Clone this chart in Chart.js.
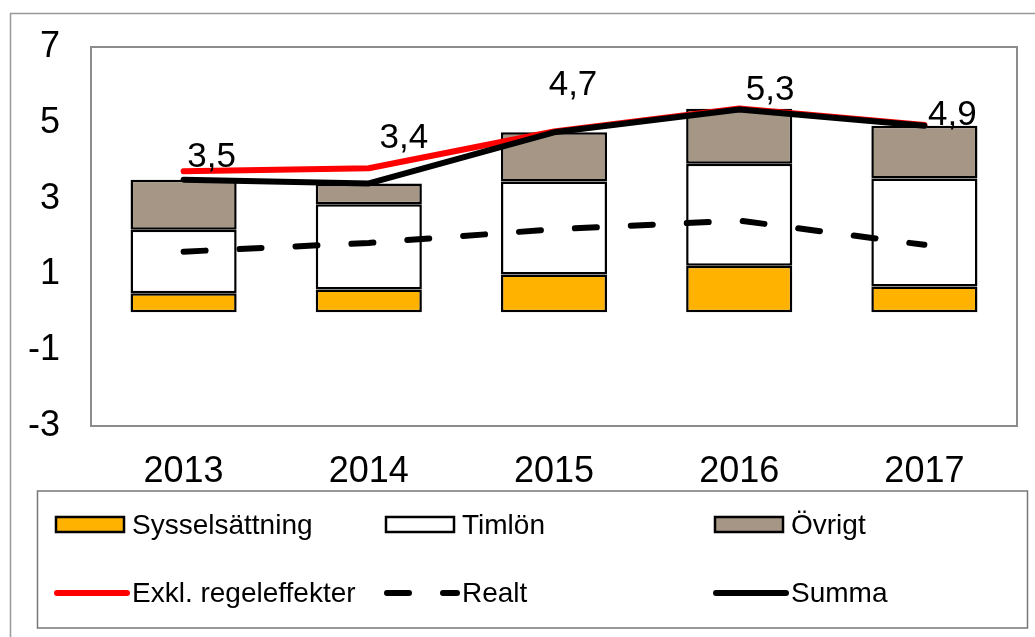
<!DOCTYPE html>
<html>
<head>
<meta charset="utf-8">
<script src="https://cdn.jsdelivr.net/npm/chart.js@4/dist/chart.umd.min.js"></script>
<style>
body { margin: 0; background: #fff; }
</style>
</head>
<body>
<canvas id="myChart" width="1035" height="637"></canvas>
<script>
// data
const years = ['2013', '2014', '2015', '2016', '2017'];
const sysselsattning = [0.5, 0.6, 1.0, 1.23, 0.68];
const timlon = [1.68, 2.25, 2.45, 2.69, 2.85];
const ovrigt = [1.32, 0.55, 1.3, 1.45, 1.39];
const exkl = [3.72, 3.8, 4.77, 5.38, 4.94];
const realt = [1.6, 1.83, 2.19, 2.42, 1.78];
const summa = [3.5, 3.4, 4.75, 5.35, 4.92];
const summaLabels = ['3,5', '3,4', '4,7', '5,3', '4,9'];
const yTicks = [-3, -1, 1, 3, 5, 7];

const FONT = "'Liberation Sans', Arial, sans-serif";

// where each summa label sits relative to its point (hand placed in original)
const labelShift = [[28, -22], [35, -45], [19, -47], [31, -19], [28, -10]];

const frame = {
    id: 'frame',
    beforeDraw(chart) {
        let ctx = chart.ctx;
        ctx.save();
        ctx.fillStyle = '#fff';
        ctx.fillRect(0, 0, chart.width, chart.height);
        ctx.strokeStyle = '#999';
        ctx.lineWidth = 1.5;
        ctx.strokeRect(10.5, 13.5, 1200, 800);
        ctx.restore();
    },
    afterDatasetsDraw(chart) {
        let a = chart.chartArea;
        let ctx = chart.ctx;
        ctx.save();
        ctx.strokeStyle = '#8c8c8c';
        ctx.lineWidth = 2;
        ctx.strokeRect(a.left, a.top, a.right - a.left, a.bottom - a.top);
        ctx.restore();
    },
    afterDraw(chart) {
        let ctx = chart.ctx;
        ctx.save();
        // summa labels
        let meta = chart.getDatasetMeta(5);
        ctx.font = '35px ' + FONT;
        ctx.fillStyle = '#000';
        ctx.textAlign = 'center';
        ctx.textBaseline = 'middle';
        meta.data.forEach(function (pt, i) {
            ctx.fillText(summaLabels[i], pt.x + labelShift[i][0], pt.y + labelShift[i][1]);
        });

        // legend box
        ctx.strokeStyle = '#777';
        ctx.lineWidth = 1.5;
        ctx.strokeRect(37.5, 491, 990, 137);
        const cols = [56, 386, 715];
        const rows = [525, 593];
        ctx.font = '28px ' + FONT;
        ctx.textAlign = 'left';
        chart.data.datasets.forEach(function (ds, i) {
            let x = cols[i % 3];
            let y = rows[Math.floor(i / 3)];
            if (ds.type === 'bar') {
                ctx.fillStyle = ds.backgroundColor;
                ctx.fillRect(x, y - 8, 68, 15);
                ctx.strokeStyle = '#000';
                ctx.lineWidth = 2.5;
                ctx.strokeRect(x, y - 8, 68, 15);
            } else {
                ctx.strokeStyle = ds.borderColor;
                ctx.lineWidth = 6;
                ctx.lineCap = 'round';
                ctx.setLineDash(ds.borderDash || []);
                ctx.beginPath();
                ctx.moveTo(x + 1, y);
                ctx.lineTo(x + 71, y);
                ctx.stroke();
                ctx.setLineDash([]);
            }
            ctx.fillStyle = '#000';
            ctx.fillText(ds.label, x + 76, y + 1);
        });
        ctx.restore();
    }
};

let canvas = document.getElementById('myChart');
let barStyle = { type: 'bar', stack: 'bars', borderColor: '#000', borderWidth: 2.5, borderSkipped: false, order: 3 };
let lineStyle = { type: 'line', borderWidth: 6, pointRadius: 0, fill: false, tension: 0, borderCapStyle: 'round', borderJoinStyle: 'round' };

let myChart = new Chart(canvas, {
    data: {
        labels: years,
        datasets: [
            Object.assign({ label: 'Sysselsättning', data: sysselsattning, backgroundColor: '#FFB300' }, barStyle),
            Object.assign({ label: 'Timlön', data: timlon, backgroundColor: '#FFFFFF' }, barStyle),
            Object.assign({ label: 'Övrigt', data: ovrigt, backgroundColor: '#A69686' }, barStyle),
            Object.assign({ label: 'Exkl. regeleffekter', data: exkl, borderColor: '#FF0000', stack: 'l1', order: 1 }, lineStyle),
            Object.assign({ label: 'Realt', data: realt, borderColor: '#000', borderDash: [22, 34], stack: 'l2', order: 2 }, lineStyle),
            Object.assign({ label: 'Summa', data: summa, borderColor: '#000', stack: 'l3', order: 0 }, lineStyle)
        ]
    },
    options: {
        responsive: false,
        animation: false,
        layout: { padding: { left: 0, top: 47, right: 18, bottom: 0 } },
        datasets: { bar: { categoryPercentage: 0.573, barPercentage: 1 } },
        plugins: { legend: { display: false }, tooltip: { enabled: false } },
        scales: {
            x: {
                stacked: true,
                grid: { display: false },
                border: { display: false },
                ticks: { color: '#000', font: { family: FONT, size: 36 }, padding: 16, maxRotation: 0 },
                afterFit: function (scale) { scale.height = 211; scale.paddingLeft = 0; scale.paddingRight = 0; }
            },
            y: {
                stacked: true,
                min: -3,
                max: 7,
                afterBuildTicks: function (scale) { scale.ticks = yTicks.map(v => ({ value: v })); },
                grid: {
                    drawTicks: false,
                    color: ctx => (ctx.tick && ctx.tick.value === 0) ? '#000' : 'rgba(0,0,0,0)',
                    lineWidth: 1.5
                },
                border: { display: false },
                ticks: { color: '#000', font: { family: FONT, size: 36 }, padding: 31 },
                afterFit: function (scale) { scale.width = 91; scale.paddingTop = 0; scale.paddingBottom = 0; }
            }
        }
    },
    plugins: [frame]
});
</script>
</body>
</html>
